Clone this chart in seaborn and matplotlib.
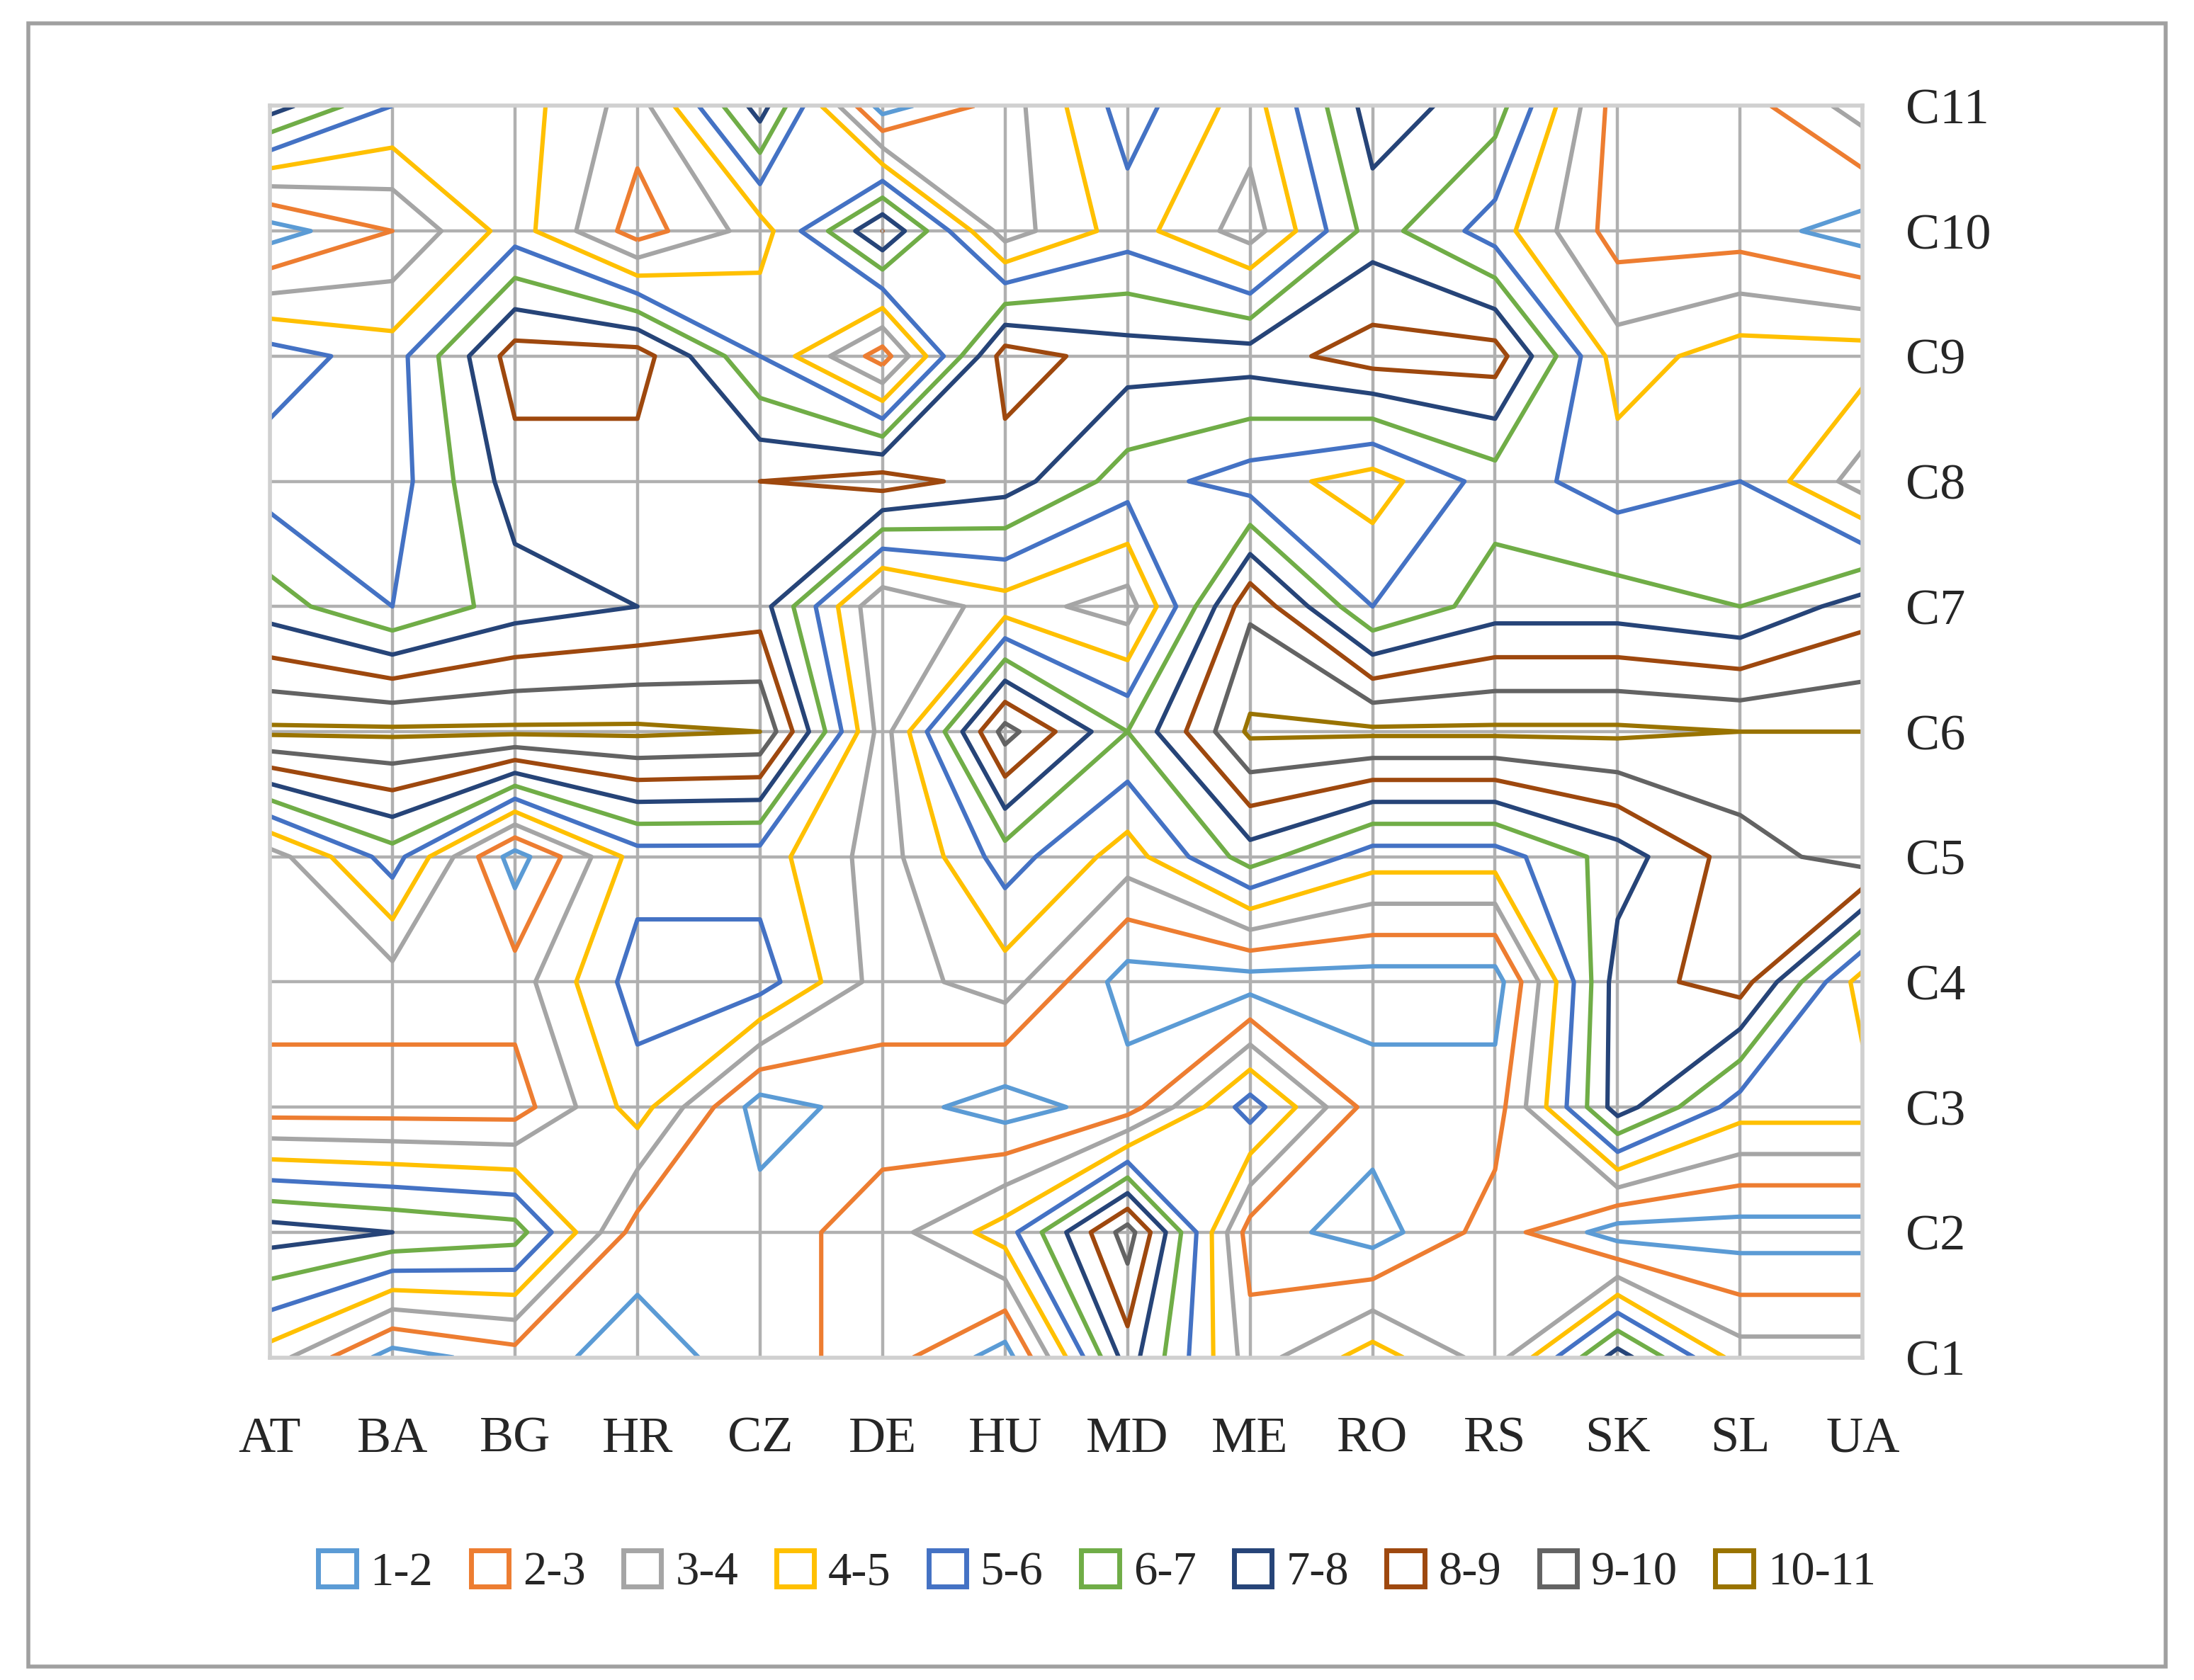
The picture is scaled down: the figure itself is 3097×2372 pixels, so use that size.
import numpy as np
import matplotlib.pyplot as plt
import matplotlib.patches as mpatches
import seaborn as sns

sns.set_style("white")
plt.rcParams['font.family'] = ['Liberation Serif', 'DejaVu Serif']

countries = ["AT", "BA", "BG", "HR", "CZ", "DE", "HU", "MD", "ME", "RO", "RS", "SK", "SL", "UA"]
criteria = ["C1", "C2", "C3", "C4", "C5", "C6", "C7", "C8", "C9", "C10", "C11"]

# ranks per criterion (rows C1..C11), columns follow countries
c1 = [4.5, 1.5, 2.5, 1.5, 2.5, 3.5, 1.5, 8.5, 3.5, 5.5, 3.5, 8.5, 4.5, 4.5]
c2 = [8.5, 8.0, 7.5, 2.5, 2.5, 3.5, 5.5, 10.5, 2.5, 1.5, 3.5, 1.5, 1.5, 1.5]
c3 = [2.5, 2.5, 2.5, 5.5, 1.5, 2.5, 1.5, 2.5, 6.5, 2.5, 2.5, 8.5, 5.5, 5.5]
c4 = [3.5, 3.5, 3.5, 6.5, 6.5, 3.5, 4.5, 1.5, 1.5, 1.5, 1.5, 8.5, 9.5, 4.5]
c5 = [3.5, 6.5, 1.5, 5.5, 5.5, 3.5, 6.5, 4.5, 7.5, 5.5, 5.5, 7.5, 9.5, 10.5]
c6 = [11.2, 11.2, 11.2, 11.2, 11.0, 3.5, 10.4, 7.0, 11.2, 11.2, 11.2, 11.2, 11.0, 11.0]
c7 = [7.5, 6.0, 7.5, 8.0, 8.5, 3.0, 4.5, 3.5, 9.8, 6.0, 7.5, 7.5, 7.0, 8.5]
c8 = [5.5, 5.5, 8.5, 8.5, 9.0, 9.5, 8.5, 6.5, 5.5, 4.5, 6.5, 5.5, 6.0, 3.5]
c9 = [6.5, 5.5, 9.5, 9.5, 6.0, 2.5, 9.5, 8.5, 8.5, 9.5, 9.5, 4.5, 5.5, 5.5]
c10 = [1.5, 3.0, 5.5, 2.5, 4.5, 9.0, 3.5, 5.5, 3.5, 7.5, 5.5, 2.5, 2.5, 1.5]
c11 = [8.5, 6.0, 5.5, 3.5, 8.5, 1.5, 3.5, 6.5, 4.5, 8.5, 7.5, 2.5, 2.5, 4.5]

bands = ["1-2", "2-3", "3-4", "4-5", "5-6", "6-7", "7-8", "8-9", "9-10", "10-11"]
band_colors = ["#5B9BD5", "#ED7D31", "#A5A5A5", "#FFC000", "#4472C4",
               "#70AD47", "#264478", "#9E480E", "#636363", "#997300"]

z = np.array([c1, c2, c3, c4, c5, c6, c7, c8, c9, c10, c11])
x = np.arange(len(countries))
y = np.arange(len(criteria))

fig = plt.figure(figsize=(15.485, 11.86), dpi=200)
ax = fig.add_axes([0.123, 0.192, 0.726, 0.745])

for xi in x:
    ax.axvline(xi, color="#B0B0B0", lw=1.6, zorder=0)
for yi in y:
    ax.axhline(yi, color="#B0B0B0", lw=1.6, zorder=0)

# the upper edge of each band is drawn in that band's colour
levels = np.arange(2, 12) - 0.0001
ax.contour(x, y, z, levels=levels, colors=band_colors, linewidths=2.2)

ax.set_xlim(0, len(countries) - 1)
ax.set_ylim(0, len(criteria) - 1)
ax.set_xticks(x)
ax.set_xticklabels(countries, fontsize=26)
ax.set_yticks(y)
ax.set_yticklabels(criteria, fontsize=26)
ax.yaxis.tick_right()
ax.tick_params(axis="x", pad=30, length=0)
ax.tick_params(axis="y", pad=22, length=0)
for s in ax.spines.values():
    s.set_color("#D0D0D0")
    s.set_linewidth(2)

handles = [mpatches.Patch(facecolor="white", edgecolor=c, linewidth=2.5, label=b)
           for b, c in zip(bands, band_colors)]
fig.legend(handles=handles, loc="center", bbox_to_anchor=(0.5, 0.064), ncol=10,
           frameon=False, fontsize=24, handlelength=0.8, handleheight=0.8,
           handletextpad=0.3, columnspacing=0.8)

fig.add_artist(mpatches.Rectangle((0.013, 0.008), 0.974, 0.978, transform=fig.transFigure,
                                  fill=False, edgecolor="#A0A0A0", lw=2))
fig.savefig("out.png", dpi=200, facecolor="white")
